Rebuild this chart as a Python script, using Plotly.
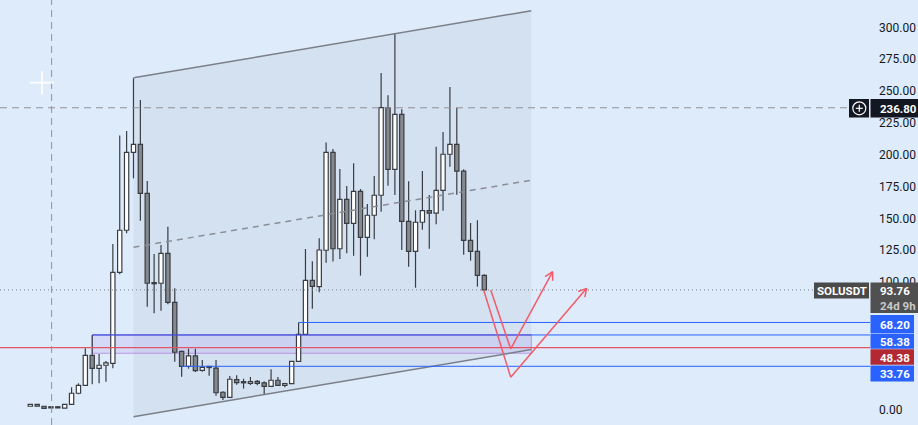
import math
import plotly.graph_objects as go

# ---------------- data (weekly SOLUSDT candles) ----------------
opens = [2.4, 3.9, 2.4, 1.6, 1.5, 0.9, 3.9, 12.6, 18.8, 42.4,
         32.2, 34.6, 36.1, 107.6, 140.6, 201.8, 208.0, 169.6, 99.2, 99.0,
         122.5, 84.0, 45.5, 33.76, 41.9, 30.6, 33.0, 32.4, 13.4, 9.4,
         23.3, 21.4, 20.4, 22.0, 20.7, 18.0, 22.8, 18.8, 20.1, 37.7,
         58.9, 101.3, 96.3, 124.9, 201.8, 126.1, 164.9, 146.0, 171.2, 135.1,
         152.4, 168.1, 236.9, 188.5, 231.7, 147.6, 124.1, 146.9, 156.0, 154.0,
         172.0, 200.3, 208.1, 187.0, 132.7, 124.1, 105.2]
highs = [3.9, 3.9, 2.4, 1.8, 2.2, 3.9, 17.3, 20.4, 47.9, 58.4,
         43.4, 38.0, 129.8, 215.0, 218.6, 260.0, 242.9, 179.3, 122.0, 129.0,
         143.4, 95.0, 46.0, 47.6, 47.6, 38.7, 34.0, 38.7, 14.1, 26.2,
         26.7, 24.0, 25.4, 23.0, 22.0, 31.4, 25.4, 20.9, 37.7, 68.2,
         125.9, 116.2, 134.3, 209.6, 204.4, 188.7, 175.4, 193.2, 173.0, 161.2,
         183.2, 264.1, 246.6, 295.3, 235.6, 179.1, 156.3, 187.1, 168.3, 206.2,
         217.8, 253.1, 236.9, 188.5, 146.3, 148.5, 106.0]
lows = [2.4, 2.4, 0.8, 1.4, 1.0, 0.9, 3.5, 11.8, 18.5, 19.6,
        20.4, 21.7, 32.2, 106.0, 138.2, 181.4, 148.0, 80.6, 75.4, 77.4,
        82.5, 37.4, 25.6, 31.9, 29.3, 29.5, 26.4, 10.7, 7.3, 9.3,
        19.3, 16.2, 19.1, 18.9, 12.0, 18.0, 18.8, 17.3, 20.1, 37.7,
        58.9, 79.0, 92.0, 115.0, 116.0, 118.0, 122.5, 120.6, 105.0, 119.8,
        133.5, 155.2, 175.6, 168.3, 125.1, 112.0, 95.5, 141.0, 126.1, 145.3,
        156.0, 190.5, 168.5, 121.4, 116.7, 96.3, 93.76]
closes = [3.9, 2.4, 0.8, 1.5, 1.6, 3.9, 12.6, 18.8, 42.4, 32.2,
          34.6, 36.4, 107.6, 140.6, 201.8, 208.0, 169.6, 99.0, 98.9, 122.5,
          84.0, 44.8, 33.76, 41.9, 30.3, 33.0, 33.5, 13.0, 9.4, 23.6,
          20.9, 21.1, 21.7, 20.4, 18.0, 22.8, 18.8, 20.1, 37.7, 58.9,
          101.3, 96.6, 125.1, 201.8, 126.1, 164.9, 146.0, 171.2, 135.1, 152.4,
          168.1, 236.9, 188.5, 231.7, 147.6, 124.1, 146.9, 156.0, 154.0, 172.0,
          200.3, 208.1, 187.0, 132.7, 124.1, 105.2, 93.76]

# visible price-scale ticks (25/50/75 are hidden behind the level badges)
tick_values = [0, 100, 125, 150, 175, 200, 225, 250, 275, 300]
tick_labels = [f"{v:.2f}" for v in tick_values]

symbol = "SOLUSDT"
countdown = "24d 9h"
last_price = 93.76
crosshair_price = 236.80
level_prices = [68.20, 58.38, 48.38, 33.76]
level_start = [39, 9, None, 22]          # candle index where a ray starts (None = full width)
zone_low, zone_high = 44.0, 58.38        # purple zone
channel_upper = [(15, 260.3), (72.83, 313.0)]
channel_lower = [(15, -5.8), (72.83, 46.9)]
arrow_outer = [(65.9, 93.76), (69.84, 25.1), (80.88, 95.0)]
arrow_inner = [(66.93, 93.76), (69.84, 47.4), (75.94, 108.1)]

# ---------------- layout constants ----------------
W, H = 918, 425
PLOT_W = 870
X0, XSTEP = 30.3, 6.879
XR = [-X0 / XSTEP, (PLOT_W - X0) / XSTEP]
YPX0, YSCALE = 409.3, 1.2733
YR = [(YPX0 - H) / YSCALE, YPX0 / YSCALE]

BG = "#deebfa"
WICK = "#393c42"
DOWN = "#868a8f"
UP = "#ffffff"
BLUE = "#2962ff"
RED_LINE = "#e25566"
ARROW = "#f45b69"
FONT = "Roboto"

n = len(opens)


def px2x(px):
    return (px - X0) / XSTEP


def x2px(x):
    return X0 + XSTEP * x


def y2py(y):
    return YPX0 - YSCALE * y


def py2y(py):
    return (YPX0 - py) / YSCALE


def paper(px, py):
    return px / PLOT_W, 1 - py / H


fig = go.Figure()

# wicks (split above/below body so they don't cross the body)
wx, wy = [], []
for i in range(n):
    top = max(opens[i], closes[i])
    bot = min(opens[i], closes[i])
    if highs[i] > top:
        wx += [i, i, None]
        wy += [highs[i], top, None]
    if lows[i] < bot:
        wx += [i, i, None]
        wy += [bot, lows[i], None]
fig.add_trace(go.Scatter(x=wx, y=wy, mode="lines", line=dict(color=WICK, width=1.2),
                         hoverinfo="skip"))

# bodies
for up in (True, False):
    bx, bbase, bh = [], [], []
    for i in range(n):
        is_up = closes[i] >= opens[i]
        if is_up != up:
            continue
        lo = min(opens[i], closes[i])
        h = abs(closes[i] - opens[i])
        if h < 0.9:
            lo -= (0.9 - h) / 2
            h = 0.9
        bx.append(i)
        bbase.append(lo)
        bh.append(h)
    fig.add_trace(go.Bar(x=bx, y=bh, base=bbase, width=0.62,
                         marker=dict(color=UP if up else DOWN, line=dict(color=WICK, width=1.2)),
                         hoverinfo="skip"))

shapes = []
# channel fill
(ux0, uy0), (ux1, uy1) = channel_upper
(lx0, ly0), (lx1, ly1) = channel_lower
shapes.append(dict(type="path", xref="x", yref="y", layer="below",
                   path=f"M {ux0},{uy0} L {ux1},{uy1} L {lx1},{ly1} L {lx0},{ly0} Z",
                   fillcolor="rgba(100,110,130,0.075)", line=dict(width=0)))
# purple zone
shapes.append(dict(type="rect", xref="x", yref="y", layer="below",
                   x0=9, x1=72.83, y0=zone_low, y1=zone_high,
                   fillcolor="rgba(150,110,235,0.14)",
                   line=dict(color="rgba(170,100,210,0.6)", width=1)))
# channel lines
shapes.append(dict(type="line", xref="x", yref="y", x0=ux0, y0=uy0, x1=ux1, y1=uy1,
                   line=dict(color="#7b7f88", width=1.5)))
shapes.append(dict(type="line", xref="x", yref="y", x0=lx0, y0=ly0, x1=lx1, y1=ly1,
                   line=dict(color="#7b7f88", width=1.5)))
shapes.append(dict(type="line", xref="x", yref="y", x0=ux0, y0=(uy0 + ly0) / 2,
                   x1=ux1, y1=(uy1 + ly1) / 2,
                   line=dict(color="#8a8e97", width=1.5, dash="6px,5px")))
# level lines
for price, start in zip(level_prices, level_start):
    if start is None:
        shapes.append(dict(type="line", xref="x", yref="y", x0=XR[0], x1=XR[1], y0=price, y1=price,
                           line=dict(color=RED_LINE, width=1.2)))
    else:
        shapes.append(dict(type="line", xref="x", yref="y", x0=start, x1=XR[1], y0=price, y1=price,
                           line=dict(color=BLUE, width=1)))
# zone top tinted purple where it overlaps the blue ray
shapes.append(dict(type="line", xref="x", yref="y", x0=9, x1=72.83, y0=zone_high, y1=zone_high,
                   line=dict(color="rgba(90,50,180,0.5)", width=1)))
# crosshair lines
shapes.append(dict(type="line", xref="x", yref="paper", x0=3.1, x1=3.1, y0=0, y1=1,
                   line=dict(color="#8f929a", width=1, dash="7px,5px")))
shapes.append(dict(type="line", xref="x", yref="y", x0=XR[0], x1=px2x(849), y0=crosshair_price,
                   y1=crosshair_price, line=dict(color="#8f929a", width=1, dash="7px,5px")))
# last price dotted line
shapes.append(dict(type="line", xref="x", yref="y", x0=XR[0], x1=px2x(814), y0=last_price,
                   y1=last_price, line=dict(color="#7b7f88", width=1, dash="1px,3px")))
# cursor cross
cx, cy = px2x(42), py2y(82.7)
shapes.append(dict(type="line", xref="x", yref="y", x0=cx - 12 / XSTEP, x1=cx + 12 / XSTEP, y0=cy, y1=cy,
                   line=dict(color="rgba(255,255,255,0.85)", width=2)))
shapes.append(dict(type="line", xref="x", yref="y", x0=cx, x1=cx, y0=cy - 11.5 / YSCALE, y1=cy + 11.5 / YSCALE,
                   line=dict(color="rgba(255,255,255,0.85)", width=2)))

# red arrows
for pts in (arrow_outer, arrow_inner):
    for (a, b), (c, d) in zip(pts[:-1], pts[1:]):
        shapes.append(dict(type="line", xref="x", yref="y", x0=a, y0=b, x1=c, y1=d,
                           line=dict(color=ARROW, width=1.5)))
    (a, b), (c, d) = pts[-2], pts[-1]
    p1 = (x2px(a), y2py(b))
    p2 = (x2px(c), y2py(d))
    ang = math.atan2(p1[1] - p2[1], p1[0] - p2[0])
    for s in (-0.5, 0.5):
        hx = p2[0] + 9 * math.cos(ang + s)
        hy = p2[1] + 9 * math.sin(ang + s)
        shapes.append(dict(type="line", xref="x", yref="y", x0=c, y0=d, x1=px2x(hx), y1=py2y(hy),
                           line=dict(color=ARROW, width=1.5)))

# ---------------- price-axis badges ----------------
annotations = []


def box(x0, y0, x1, y1, color):
    a0, b0 = paper(x0, y0)
    a1, b1 = paper(x1, y1)
    shapes.append(dict(type="rect", xref="paper", yref="paper", x0=a0, y0=b1, x1=a1, y1=b0,
                       fillcolor=color, line=dict(width=0), layer="above"))


def text(px, py, t, color="white", size=12, anchor="left", bold=True):
    a, b = paper(px, py)
    annotations.append(dict(xref="paper", yref="paper", x=a, y=b, text=f"<b>{t}</b>" if bold else t,
                            showarrow=False, xanchor=anchor, yanchor="middle",
                            font=dict(color=color, size=size, family=FONT)))


# 236.80 crosshair badge
box(849, 99, 869, 117.5, "#131722")
box(870.5, 99, 918, 117.5, "#131722")
c0, d0 = paper(859.3 - 6.5, 108.3 - 6.5)
c1, d1 = paper(859.3 + 6.5, 108.3 + 6.5)
shapes.append(dict(type="circle", xref="paper", yref="paper", x0=c0, y0=d1, x1=c1, y1=d0,
                   line=dict(color="white", width=1.2), layer="above"))
for (p, q, r, s) in [(855.8, 108.3, 862.8, 108.3), (859.3, 104.8, 859.3, 111.8)]:
    e0, f0 = paper(p, q)
    e1, f1 = paper(r, s)
    shapes.append(dict(type="line", xref="paper", yref="paper", x0=e0, y0=f0, x1=e1, y1=f1,
                       line=dict(color="white", width=1.2), layer="above"))
text(877.5, 108.5, f"{crosshair_price:.2f}", size=11.5)

# last price badge
box(814, 282.5, 869, 298.5, "#4a4a4a")
text(841.5, 290.5, symbol, anchor="center", size=11.5)
box(870.5, 282.5, 918, 313, "#505050")
text(877.5, 291, f"{last_price:.2f}", size=11.5)
text(877.5, 305.5, countdown, color="#c9c9c9", size=11.5)

# level badges
badge_rows = [(315, 333.3, BLUE), (333.7, 348.7, BLUE), (349.3, 364.7, "#b22833"), (365.5, 381.5, BLUE)]
for price, (t0, t1, col) in zip(level_prices, badge_rows):
    box(870.5, t0, 914, t1, col)
    text(877.5, (t0 + t1) / 2 + 0.5, f"{price:.2f}", size=11.5)

fig.update_layout(
    width=W, height=H,
    margin=dict(l=0, r=W - PLOT_W, t=0, b=0),
    paper_bgcolor=BG, plot_bgcolor=BG,
    showlegend=False, barmode="overlay",
    shapes=shapes, annotations=annotations,
    font=dict(family=FONT),
    xaxis=dict(range=XR, visible=False, fixedrange=True),
    yaxis=dict(range=YR, side="right", tickvals=tick_values, ticktext=tick_labels,
               showgrid=False, zeroline=False, showline=False, ticks="",
               ticklabelstandoff=8,
               tickfont=dict(color="#131722", size=12, family=FONT), fixedrange=True),
)

fig.write_html("out.html")
